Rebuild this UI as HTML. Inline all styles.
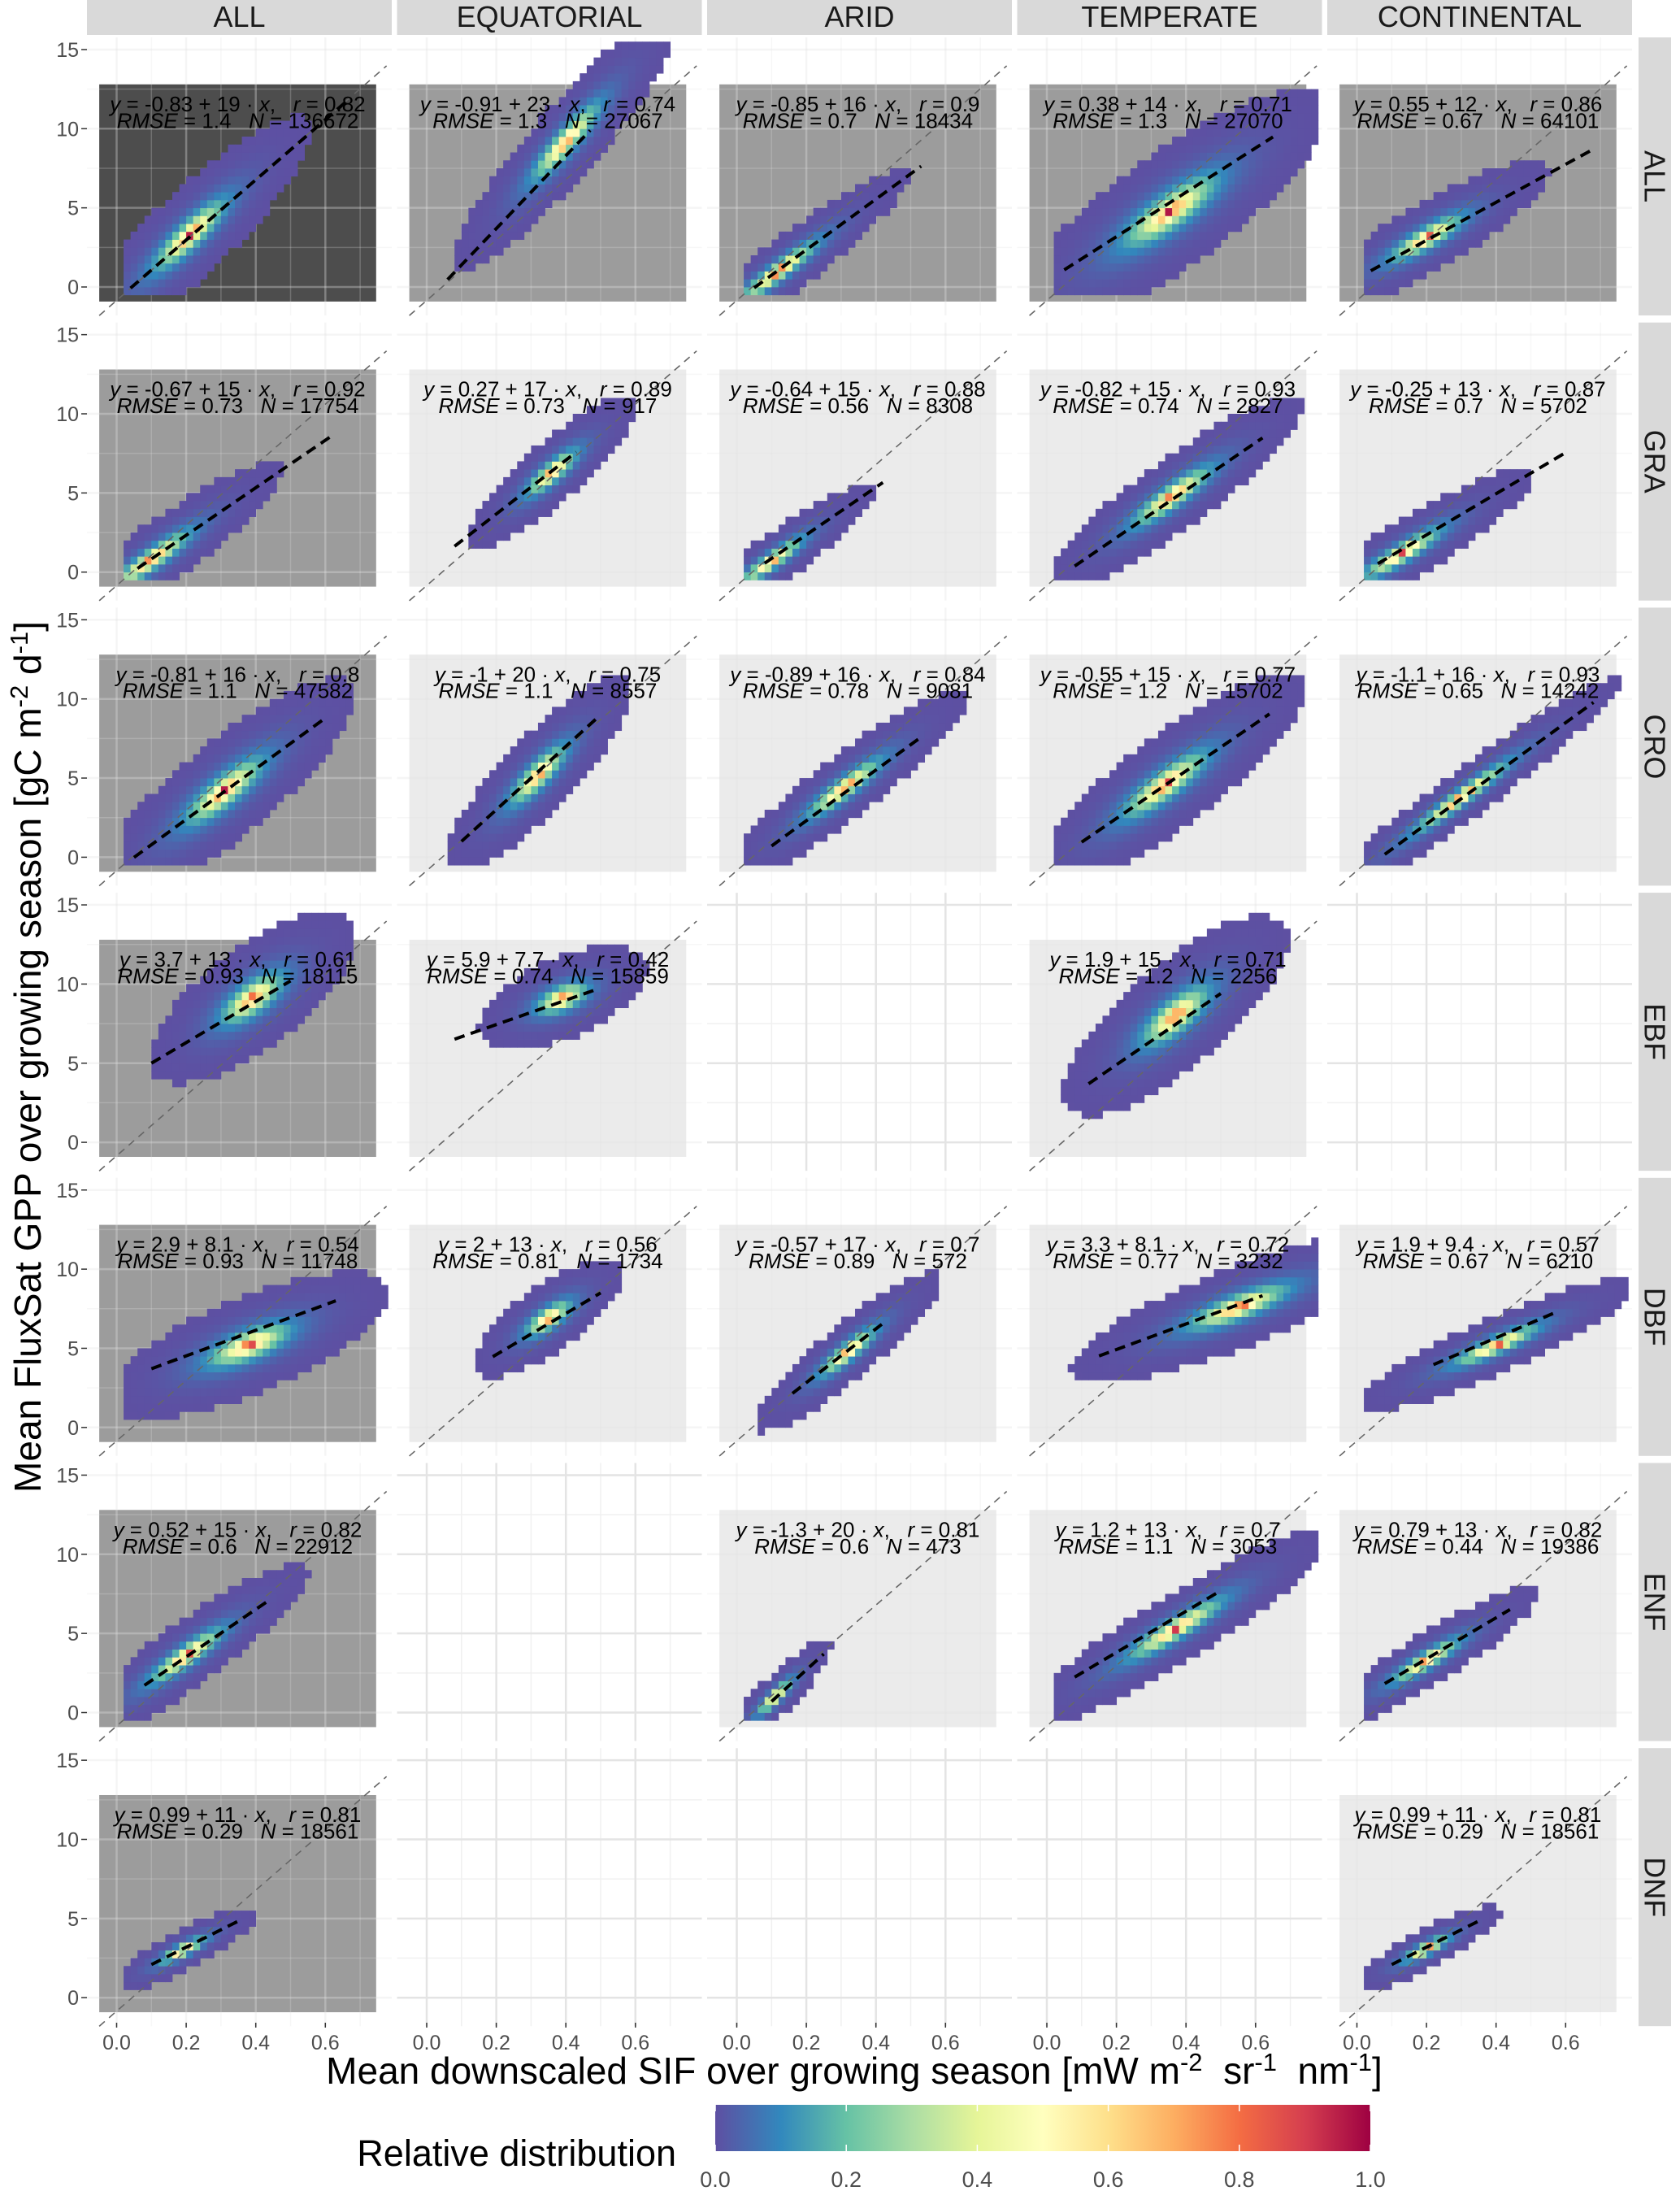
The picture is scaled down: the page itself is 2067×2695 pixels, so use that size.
<!DOCTYPE html>
<html><head><meta charset="utf-8">
<style>
html,body{margin:0;padding:0;background:#fff;}
svg{display:block;font-family:"Liberation Sans",Arial,sans-serif;}
text{white-space:pre;}
</style></head>
<body>
<svg id="fig" xmlns="http://www.w3.org/2000/svg" width="2067" height="2695" viewBox="0 0 2067 2695">
<defs>
<linearGradient id="spec" x1="0" x2="1" y1="0" y2="0">
<stop offset="0" stop-color="#5e4fa2"/><stop offset="0.1" stop-color="#3288bd"/><stop offset="0.2" stop-color="#66c2a5"/><stop offset="0.3" stop-color="#abdda4"/><stop offset="0.4" stop-color="#e6f598"/><stop offset="0.5" stop-color="#ffffbf"/><stop offset="0.6" stop-color="#fee08b"/><stop offset="0.7" stop-color="#fdae61"/><stop offset="0.8" stop-color="#f46d43"/><stop offset="0.9" stop-color="#d53e4f"/><stop offset="1" stop-color="#9e0142"/>
</linearGradient>
</defs>
</svg>
<script>
// ---- data ----
const colNames = ['ALL','EQUATORIAL','ARID','TEMPERATE','CONTINENTAL'];
const rowNames = ['ALL','GRA','CRO','EBF','DBF','ENF','DNF'];
const intercept = [-0.83,-0.91,-0.85,0.38,0.55, -0.67,0.27,-0.64,-0.82,-0.25, -0.81,-1,-0.89,-0.55,-1.1, 3.7,5.9,null,1.9,null, 2.9,2,-0.57,3.3,1.9, 0.52,null,-1.3,1.2,0.79, 0.99,null,null,null,0.99];
const slope = [19,23,16,14,12, 15,17,15,15,13, 16,20,16,15,16, 13,7.7,null,15,null, 8.1,13,17,8.1,9.4, 15,null,20,13,13, 11,null,null,null,11];
const corrR = [0.82,0.74,0.9,0.71,0.86, 0.92,0.89,0.88,0.93,0.87, 0.8,0.75,0.84,0.77,0.93, 0.61,0.42,null,0.71,null, 0.54,0.56,0.7,0.72,0.57, 0.82,null,0.81,0.7,0.82, 0.81,null,null,null,0.81];
const rmse = [1.4,1.3,0.7,1.3,0.67, 0.73,0.73,0.56,0.74,0.7, 1.1,1.1,0.78,1.2,0.65, 0.93,0.74,null,1.2,null, 0.93,0.81,0.89,0.77,0.67, 0.6,null,0.6,1.1,0.44, 0.29,null,null,null,0.29];
const nObs = [136672,27067,18434,27070,64101, 17754,917,8308,2827,5702, 47582,8557,9081,15702,14242, 18115,15859,null,2256,null, 11748,1734,572,3232,6210, 22912,null,473,3053,19386, 18561,null,null,null,18561];
const peakX = [0.21,0.40,0.12,0.355,0.2, 0.1,0.36,0.1,0.36,0.13, 0.31,0.32,0.31,0.34,0.3, 0.39,0.39,null,0.37,null, 0.38,0.35,0.32,0.55,0.4, 0.2,null,0.11,0.37,0.2, 0.19,null,null,null,0.2];
const peakY = [3.3,9.2,1.0,4.8,3.1, 0.8,6.3,0.7,4.8,1.2, 4.2,5.2,4.4,4.6,3.8, 9.1,9.1,null,8.0,null, 5.2,6.9,4.8,7.6,5.2, 3.6,null,1.0,5.3,3.3, 3.0,null,null,null,3.1];
const spreadX = [0.13,0.12,0.14,0.17,0.13, 0.14,0.09,0.11,0.14,0.14, 0.14,0.1,0.13,0.15,0.17, 0.11,0.09,null,0.12,null, 0.15,0.08,0.1,0.18,0.15, 0.13,null,0.06,0.17,0.12, 0.08,null,null,null,0.08];
const spreadY = [1.3,1.2,0.8,1.6,0.9, 0.9,0.9,0.7,1.0,0.8, 1.4,1.2,0.9,1.3,0.7, 1.4,1.0,null,1.5,null, 1.2,0.9,0.8,1.0,0.7, 0.9,null,0.6,0.9,0.7, 0.5,null,null,null,0.5];
const fitXmin = [0.04,0.06,0.05,0.05,0.04, 0.06,0.08,0.08,0.08,0.06, 0.05,0.1,0.1,0.1,0.08, 0.1,0.08,null,0.12,null, 0.1,0.19,0.16,0.15,0.22, 0.08,null,0.1,0.08,0.08, 0.1,null,null,null,0.1];
const fitXmax = [0.67,0.47,0.53,0.65,0.67, 0.62,0.43,0.42,0.62,0.6, 0.6,0.49,0.53,0.64,0.68, 0.5,0.48,null,0.5,null, 0.63,0.5,0.42,0.62,0.58, 0.43,null,0.25,0.49,0.44, 0.36,null,null,null,0.36];
const xTicks = [0,0.2,0.4,0.6];
const xTickLabels = ['0.0','0.2','0.4','0.6'];
const yTicks = [0,5,10,15];
const yTickLabels = ['0','5','10','15'];
const legendTicks = [0,0.2,0.4,0.6,0.8,1.0];
const legendLabels = ['0.0','0.2','0.4','0.6','0.8','1.0'];

// ---- layout / scales ----
const NS='http://www.w3.org/2000/svg';
const svg=document.getElementById('fig');
const colLeft=c=>107+381.5*c, panelW=375;
const rowTop=r=>46+350.7*r, panelH=342;
const X=(c,v)=>143.5+381.5*c+428*v;
const Y=(r,v)=>353+350.7*r-19.47*v;
function mk(tag,attrs,parent){const e=document.createElementNS(NS,tag);for(const k in attrs)e.setAttribute(k,attrs[k]);(parent||svg).appendChild(e);return e;}
const stops=['#5e4fa2','#3288bd','#66c2a5','#abdda4','#e6f598','#ffffbf','#fee08b','#fdae61','#f46d43','#d53e4f','#9e0142'];
function hex(h){return [parseInt(h.substr(1,2),16),parseInt(h.substr(3,2),16),parseInt(h.substr(5,2),16)];}
function cmap(t){t=Math.max(0,Math.min(1,t));const p=t*10,i=Math.min(9,Math.floor(p)),f=p-i;const a=hex(stops[i]),b=hex(stops[i+1]);return 'rgb('+a.map((v,k)=>Math.round(v+(b[k]-v)*f)).join(',')+')';}

// column strips
colNames.forEach((n,c)=>{
  const g=mk('g',{});
  
  
  mk('rect',{x:colLeft(c),y:0,width:panelW,height:43,fill:'#d9d9d9'},g);
  const t=mk('text',{x:colLeft(c)+panelW/2,y:33,'text-anchor':'middle','font-size':36,fill:'#1a1a1a'},g);t.textContent=n;
});
// row strips
rowNames.forEach((n,r)=>{
  const g=mk('g',{});
  
  
  mk('rect',{x:2016,y:rowTop(r),width:40,height:panelH,fill:'#d9d9d9'},g);
  const cx=2036,cy=rowTop(r)+panelH/2;
  const t=mk('text',{x:cx,y:cy,'text-anchor':'middle','dominant-baseline':'central','font-size':36,fill:'#1a1a1a',transform:'rotate(90 '+cx+' '+cy+')'},g);t.textContent=n;
});

for(let r=0;r<7;r++){for(let c=0;c<5;c++){
  const i=r*5+c;
  const g=mk('g',{});
  
  
  const has=intercept[i]!==null;
  if(has){
    const fill=(r===0&&c===0)?'#4d4d4d':((r===0||c===0)?'#9c9c9c':'#ebebeb');
    const bg=mk('rect',{x:X(c,-0.05),y:Y(r,12.8),width:X(c,0.746)-X(c,-0.05),height:Y(r,-0.92)-Y(r,12.8),fill:fill},g);
    
    
  }
  const gl=has?'rgba(225,225,225,0.35)':'#e4e4e4', glm=has?'rgba(225,225,225,0.25)':'#f0f0f0';
  [0.1,0.3,0.5,0.7].forEach(v=>mk('line',{x1:X(c,v),x2:X(c,v),y1:rowTop(r),y2:rowTop(r)+panelH,stroke:glm,'stroke-width':1.5},g));
  [2.5,7.5,12.5].forEach(v=>mk('line',{x1:colLeft(c),x2:colLeft(c)+panelW,y1:Y(r,v),y2:Y(r,v),stroke:glm,'stroke-width':1.5},g));
  xTicks.forEach(v=>mk('line',{x1:X(c,v),x2:X(c,v),y1:rowTop(r),y2:rowTop(r)+panelH,stroke:gl,'stroke-width':2.5},g));
  yTicks.forEach(v=>mk('line',{x1:colLeft(c),x2:colLeft(c)+panelW,y1:Y(r,v),y2:Y(r,v),stroke:gl,'stroke-width':2.5},g));
  if(!has) continue;
  const a=intercept[i],b=slope[i],px=peakX[i],sx=spreadX[i],sy=spreadY[i];
  const oy=peakY[i]-(a+b*px);
  const hm=mk('g',{},g);
  
  
  for(let xb=0;xb<0.78;xb+=0.02){for(let yb=-1;yb<15.5;yb+=0.5){
    const xc=xb+0.01,yc=yb+0.25;
    if(xc<0.015||yc<-0.6)continue;
    const u=(xc-px)/sx,v=(yc-(a+b*xc)-oy)/sy;
    const rr=Math.sqrt(u*u+v*v);
    if(rr>2.7)continue;
    const d=Math.exp(-2.6*rr);
    const cell=mk('rect',{x:X(c,xb),y:Y(r,yb+0.5),width:X(c,xb+0.02)-X(c,xb)+0.4,height:Y(r,yb)-Y(r,yb+0.5)+0.4,fill:cmap(Math.min(1,d*1.05))},hm);
    
    
  }}
  const ref=mk('line',{x1:X(c,-0.05),y1:Y(r,-0.85-0.05*19.1),x2:X(c,0.776),y2:Y(r,-0.85+0.776*19.1),stroke:'#666','stroke-width':1.6,'stroke-dasharray':'9 7'},g);
  
  
  const x0=fitXmin[i],x1=fitXmax[i];
  const fl=mk('line',{x1:X(c,x0),y1:Y(r,a+b*x0),x2:X(c,x1),y2:Y(r,a+b*x1),stroke:'#000','stroke-width':4,'stroke-dasharray':'13 8'},g);
  
  
  const tx=X(c,0.348);
  const t1=mk('text',{x:tx,y:Y(r,11.1),'text-anchor':'middle','font-size':26,fill:'#000'},g);
  
  
  t1.innerHTML='<tspan font-style="italic">y</tspan> = '+intercept[i]+' + '+slope[i]+' · <tspan font-style="italic">x</tspan>,   <tspan font-style="italic">r</tspan> = '+corrR[i];
  const t2=mk('text',{x:tx,y:Y(r,10.05),'text-anchor':'middle','font-size':26,fill:'#000'},g);
  
  
  t2.innerHTML='<tspan font-style="italic">RMSE</tspan> = '+rmse[i]+'   <tspan font-style="italic">N</tspan> = '+nObs[i];
}}

for(let r=0;r<7;r++){
  yTicks.forEach((v,k)=>{
    mk('line',{x1:100,x2:107,y1:Y(r,v),y2:Y(r,v),stroke:'#333','stroke-width':1.5});
    const t=mk('text',{x:97,y:Y(r,v)+9,'text-anchor':'end','font-size':25,fill:'#4d4d4d'});
    
    
    t.textContent=yTickLabels[k];
  });
}
for(let c=0;c<5;c++){
  xTicks.forEach((v,k)=>{
    mk('line',{x1:X(c,v),x2:X(c,v),y1:2488,y2:2494,stroke:'#333','stroke-width':1.5});
    const t=mk('text',{x:X(c,v),y:2521,'text-anchor':'middle','font-size':25,fill:'#4d4d4d'});
    
    
    t.textContent=xTickLabels[k];
  });
}
const yt=mk('text',{x:50,y:1300,'text-anchor':'middle','font-size':46,fill:'#000',transform:'rotate(-90 50 1300)'});


yt.innerHTML='Mean FluxSat GPP over growing season [gC m<tspan font-size="31" dy="-16">-2</tspan><tspan dy="16"> d</tspan><tspan font-size="31" dy="-16">-1</tspan><tspan dy="16">]</tspan>';
const xt=mk('text',{x:1051,y:2563,'text-anchor':'middle','font-size':46,fill:'#000'});


xt.innerHTML='Mean downscaled SIF over growing season [mW m<tspan font-size="31" dy="-16">-2</tspan><tspan dy="16">  sr</tspan><tspan font-size="31" dy="-16">-1</tspan><tspan dy="16">  nm</tspan><tspan font-size="31" dy="-16">-1</tspan><tspan dy="16">]</tspan>';
const lg=mk('g',{});


const lt=mk('text',{x:832,y:2664,'text-anchor':'end','font-size':45,fill:'#000'},lg);


lt.textContent='Relative distribution';
const LX=v=>880+806*v;
const cb=mk('rect',{x:LX(0),y:2589,width:806,height:57,fill:'url(#spec)'},lg);


legendTicks.forEach((v,k)=>{
  mk('line',{x1:LX(v),x2:LX(v),y1:2589,y2:2597,stroke:'#fff','stroke-width':1.5},lg);
  mk('line',{x1:LX(v),x2:LX(v),y1:2638,y2:2646,stroke:'#fff','stroke-width':1.5},lg);
  const t=mk('text',{x:LX(v),y:2690,'text-anchor':'middle','font-size':27,fill:'#4d4d4d'},lg);
  
  
  t.textContent=legendLabels[k];
});
</script>
</body></html>
